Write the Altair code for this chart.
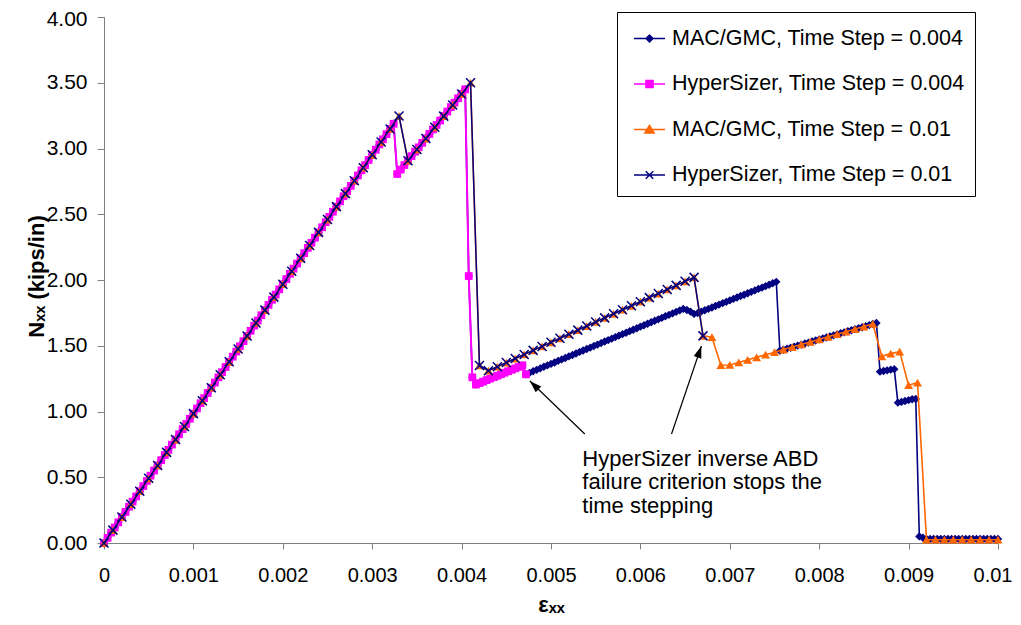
import math
import altair as alt
import pandas as pd

FONT = "Liberation Sans"

# ---------------- data ----------------
SERIES = [
    "MAC/GMC, Time Step = 0.004",
    "HyperSizer, Time Step = 0.004",
    "MAC/GMC, Time Step = 0.01",
    "HyperSizer, Time Step = 0.01",
]
COLORS = ["#000080", "#FF00FF", "#FF6600", "#000080"]

# strain increment between consecutive output points of each run
STEP_004 = 0.00004
STEP_01 = 0.0001

# HyperSizer, time step 0.004 (Nxx, kips/in), strain 0 .. 0.00472
hs004_y = [
    0.000, 0.039, 0.079, 0.118, 0.157, 0.197, 0.236, 0.276, 0.315, 0.354,
    0.394, 0.433, 0.472, 0.512, 0.551, 0.590, 0.630, 0.669, 0.708, 0.748,
    0.787, 0.827, 0.866, 0.905, 0.945, 0.984, 1.023, 1.063, 1.102, 1.141,
    1.181, 1.220, 1.260, 1.299, 1.338, 1.378, 1.417, 1.456, 1.496, 1.535,
    1.574, 1.614, 1.653, 1.692, 1.732, 1.771, 1.811, 1.850, 1.889, 1.929,
    1.968, 2.007, 2.047, 2.086, 2.125, 2.165, 2.204, 2.244, 2.283, 2.322,
    2.362, 2.401, 2.440, 2.480, 2.519, 2.558, 2.598, 2.637, 2.676, 2.716,
    2.755, 2.795, 2.834, 2.873, 2.913, 2.952, 2.991, 3.031, 3.070, 3.109,
    3.149, 3.188,
    2.806, 2.840, 2.874, 2.908, 2.942, 2.976, 3.009, 3.043, 3.077, 3.111,
    3.145, 3.179, 3.213, 3.247, 3.281, 3.315, 3.348, 3.382, 3.416, 3.450,
    2.030, 1.260,
    1.205, 1.216, 1.227, 1.239, 1.250, 1.261, 1.272, 1.283, 1.295, 1.306,
    1.317, 1.328, 1.339, 1.351,
    1.283,
]

# MAC/GMC, time step 0.004: same as above up to 0.00472, then continues to 0.01
gmc004_tail = [
    1.294, 1.306, 1.317, 1.328, 1.340, 1.351, 1.362, 1.373, 1.385, 1.396,
    1.407, 1.419, 1.430, 1.441, 1.453, 1.464, 1.475, 1.486, 1.498, 1.509,
    1.520, 1.532, 1.543, 1.554, 1.566, 1.577, 1.588, 1.599, 1.611, 1.622,
    1.633, 1.645, 1.656, 1.667, 1.679, 1.690, 1.701, 1.712, 1.724, 1.735,
    1.746, 1.758, 1.769, 1.780,
    1.772, 1.760, 1.742, 1.748,
    1.759, 1.770, 1.780, 1.791, 1.802, 1.813, 1.824, 1.834, 1.845, 1.856,
    1.867, 1.878, 1.888, 1.899, 1.910, 1.921, 1.932, 1.942, 1.953, 1.964,
    1.975, 1.986,
    1.462, 1.470, 1.478, 1.485, 1.493, 1.501, 1.509, 1.517, 1.524, 1.532,
    1.540, 1.548, 1.556, 1.563, 1.571, 1.579, 1.587, 1.595, 1.602, 1.610,
    1.618, 1.626, 1.634, 1.641, 1.649, 1.657, 1.665, 1.673,
    1.303, 1.308, 1.313, 1.318, 1.322,
    1.067, 1.073, 1.080, 1.086, 1.093, 1.095,
    0.050, 0.040, 0.030, 0.030, 0.030, 0.030, 0.030, 0.030, 0.030, 0.030,
    0.030, 0.030, 0.030, 0.030, 0.030, 0.030, 0.030, 0.030, 0.030, 0.030,
    0.030, 0.030, 0.030,
]

# HyperSizer, time step 0.01, strain 0 .. 0.0067
hs01_y = [
    0.000, 0.098, 0.197, 0.295, 0.394, 0.492, 0.590, 0.689, 0.787, 0.886,
    0.984, 1.082, 1.181, 1.279, 1.378, 1.476, 1.574, 1.673, 1.771, 1.870,
    1.968, 2.066, 2.165, 2.263, 2.362, 2.460, 2.558, 2.657, 2.755, 2.854,
    2.952, 3.050, 3.149, 3.247,
    2.907, 2.992, 3.076, 3.161, 3.246, 3.331, 3.415, 3.500,
    1.350,
    1.310, 1.341, 1.372, 1.403, 1.434, 1.465, 1.495, 1.526, 1.557, 1.588,
    1.619, 1.650, 1.681, 1.712, 1.743, 1.774, 1.804, 1.835, 1.866, 1.897,
    1.928, 1.959, 1.990, 2.020,
    1.575,
]

# MAC/GMC, time step 0.01: same as above up to 0.0067, then continues to 0.01
gmc01_tail = [
    1.565, 1.352, 1.354,
    1.373, 1.393, 1.412, 1.432, 1.451, 1.471, 1.490, 1.510, 1.529, 1.549,
    1.568, 1.588, 1.607, 1.627, 1.646, 1.666,
    1.420, 1.440, 1.455, 1.200, 1.220,
    0.025, 0.025, 0.025, 0.025, 0.025, 0.025, 0.025, 0.025, 0.025,
]

X_TICKS = [0, 0.001, 0.002, 0.003, 0.004, 0.005, 0.006, 0.007, 0.008, 0.009, 0.01]
Y_TICKS = [0.0, 0.5, 1.0, 1.5, 2.0, 2.5, 3.0, 3.5, 4.0]

# annotation (data coordinates)
NOTE_TEXT = "HyperSizer inverse ABD\nfailure criterion stops the\ntime stepping"
NOTE_X = [0.00535]
NOTE_Y = [0.586]
ARROW_TAIL_X = [0.005378, 0.006348]
ARROW_TAIL_Y = [0.829, 0.829]
ARROW_TIP_X = [0.004763, 0.006682]
ARROW_TIP_Y = [1.232, 1.498]

# ---------------- build tables ----------------
W, H = 894, 526
X_DOM = [0, 0.01]
Y_DOM = [0, 4]

series_y = {
    SERIES[0]: (hs004_y + gmc004_tail, STEP_004),
    SERIES[1]: (hs004_y, STEP_004),
    SERIES[2]: (hs01_y + gmc01_tail, STEP_01),
    SERIES[3]: (hs01_y, STEP_01),
}
rows = []
for name, (ys, step) in series_y.items():
    for i, v in enumerate(ys):
        rows.append({"series": name, "strain": round(i * step, 6), "N": v})
df = pd.DataFrame(rows)

sx = W / (X_DOM[1] - X_DOM[0])
sy = H / (Y_DOM[1] - Y_DOM[0])
angles = []
for tx, ty, hx, hy in zip(ARROW_TAIL_X, ARROW_TAIL_Y, ARROW_TIP_X, ARROW_TIP_Y):
    a = math.degrees(math.atan2((hx - tx) * sx, (hy - ty) * sy)) % 360
    angles.append(a)
arrow_df = pd.DataFrame({
    "strain": ARROW_TAIL_X, "N": ARROW_TAIL_Y,
    "strain2": ARROW_TIP_X, "N2": ARROW_TIP_Y, "angle": angles,
})
tip_df = pd.DataFrame({"strain": ARROW_TIP_X, "N": ARROW_TIP_Y, "angle": angles})
note_df = pd.DataFrame({"strain": NOTE_X, "N": NOTE_Y, "label": [NOTE_TEXT]})
legend_df = pd.DataFrame({"series": SERIES, "strain": [0.005] * 4, "N": [-1.0] * 4})

# ---------------- encodings ----------------
AXIS_GRAY = "#808080"
LAST_TICK = "datum.value >= 0.0099"
TOP_TICK = "datum.value >= 3.99"
X_ENC = alt.X(
    "strain:Q",
    scale=alt.Scale(domain=X_DOM, nice=False, zero=False),
    title="εₓₓ",
    axis=alt.Axis(
        values=X_TICKS, format="~f", grid=False,
        labelFont=FONT, labelFontSize=20, labelColor="black", labelPadding=16,
        labelFlush=False, labelOverlap=False,
        labelAlign=alt.ConditionalAxisLabelAlign(
            condition={"test": LAST_TICK, "value": "right"}, value="center"
        ),
        labelOffset=alt.ConditionalAxisNumber(
            condition={"test": LAST_TICK, "value": 14}, value=0
        ),
        tickSize=6, tickColor=AXIS_GRAY, domainColor=AXIS_GRAY,
        titleFont=FONT, titleFontSize=22, titleFontWeight="bold", titleColor="black",
        titleY=68, titleBaseline="alphabetic",
    ),
)
Y_ENC = alt.Y(
    "N:Q",
    scale=alt.Scale(domain=Y_DOM, nice=False, zero=False),
    title="Nₓₓ (kips/in)",
    axis=alt.Axis(
        values=Y_TICKS, format=".2f", grid=False,
        labelFont=FONT, labelFontSize=21, labelColor="black", labelPadding=10,
        labelFlush=False, labelOverlap=False,
        labelOffset=alt.ConditionalAxisNumber(
            condition={"test": TOP_TICK, "value": 2}, value=0
        ),
        tickSize=7, tickColor=AXIS_GRAY, domainColor=AXIS_GRAY,
        titleFont=FONT, titleFontSize=22, titleFontWeight="bold", titleColor="black",
        titleAngle=270, titleX=-61, titleY=259, titleBaseline="alphabetic", titleAlign="center",
    ),
)

X_PATH = "M-1,-1L1,1M-1,1L1,-1"
MARKERS = [
    dict(shape="diamond", size=70, filled=True),
    dict(shape="square", size=60, filled=True),
    dict(shape="triangle-up", size=80, filled=True),
    dict(shape=X_PATH, size=81, filled=False, strokeWidth=1.5),
]
LINE_W = [1.6, 2.0, 1.6, 1.5]

layers = []
for name, col, mk, lw in zip(SERIES, COLORS, MARKERS, LINE_W):
    base = alt.Chart(df).transform_filter(alt.datum.series == name)
    layers.append(base.mark_line(color=col, strokeWidth=lw).encode(x=X_ENC, y=Y_ENC))
    layers.append(base.mark_point(color=col, opacity=1, **mk).encode(x=X_ENC, y=Y_ENC))

LEGEND_PATHS = [
    "M-1,0L1,0M0,-0.22L0.22,0L0,0.22L-0.22,0Z",
    "M-1,0L1,0M-0.23,-0.23L0.23,-0.23L0.23,0.23L-0.23,0.23Z",
    "M-1,0L1,0M0,-0.27L0.3,0.22L-0.3,0.22Z",
    "M-1,0L1,0M-0.24,-0.24L0.24,0.24M-0.24,0.24L0.24,-0.24",
]
LEG = alt.Legend(
    title=None, orient="none", legendX=513, legendY=-5,
    padding=10, strokeColor="#000000", fillColor="white",
    labelFont=FONT, labelFontSize=21.5, labelColor="black", labelLimit=500,
    symbolSize=961, symbolStrokeWidth=1.5, rowPadding=18.5, labelOffset=6, symbolOffset=6,
)
color_scale = alt.Scale(domain=SERIES, range=COLORS)
legend_layer = alt.Chart(legend_df).mark_point(clip=True, size=961, opacity=1, strokeWidth=1.5).encode(
    x=X_ENC, y=Y_ENC,
    fill=alt.Fill("series:N", scale=color_scale, legend=LEG),
    stroke=alt.Stroke("series:N", scale=color_scale, legend=LEG),
    shape=alt.Shape("series:N", scale=alt.Scale(domain=SERIES, range=LEGEND_PATHS), legend=LEG),
)
layers.append(legend_layer)

arrow_lines = alt.Chart(arrow_df).mark_rule(color="black", strokeWidth=1.2).encode(
    x=X_ENC, y=Y_ENC, x2="strain2:Q", y2="N2:Q"
)
ARROW_HEAD = "M0,0L-0.4,1.2L0.4,1.2Z"
arrow_heads = alt.Chart(tip_df).mark_point(
    shape=ARROW_HEAD, filled=True, color="black", size=400, opacity=1
).encode(x=X_ENC, y=Y_ENC, angle=alt.Angle("angle:Q", scale=None))
note = alt.Chart(note_df).mark_text(
    align="left", baseline="alphabetic", font=FONT, fontSize=22, lineHeight=23.5,
    color="black", lineBreak="\n",
).encode(x=X_ENC, y=Y_ENC, text="label:N")
layers += [arrow_lines, arrow_heads, note]

chart = alt.layer(*layers).properties(
    width=W, height=H,
    padding={"left": 96, "top": 9, "right": 15, "bottom": 74},
    autosize=alt.AutoSizeParams(type="none"),
    background="white",
).configure_view(stroke=None)

chart.save("out.html", embed_options={"renderer": "svg", "actions": False})
